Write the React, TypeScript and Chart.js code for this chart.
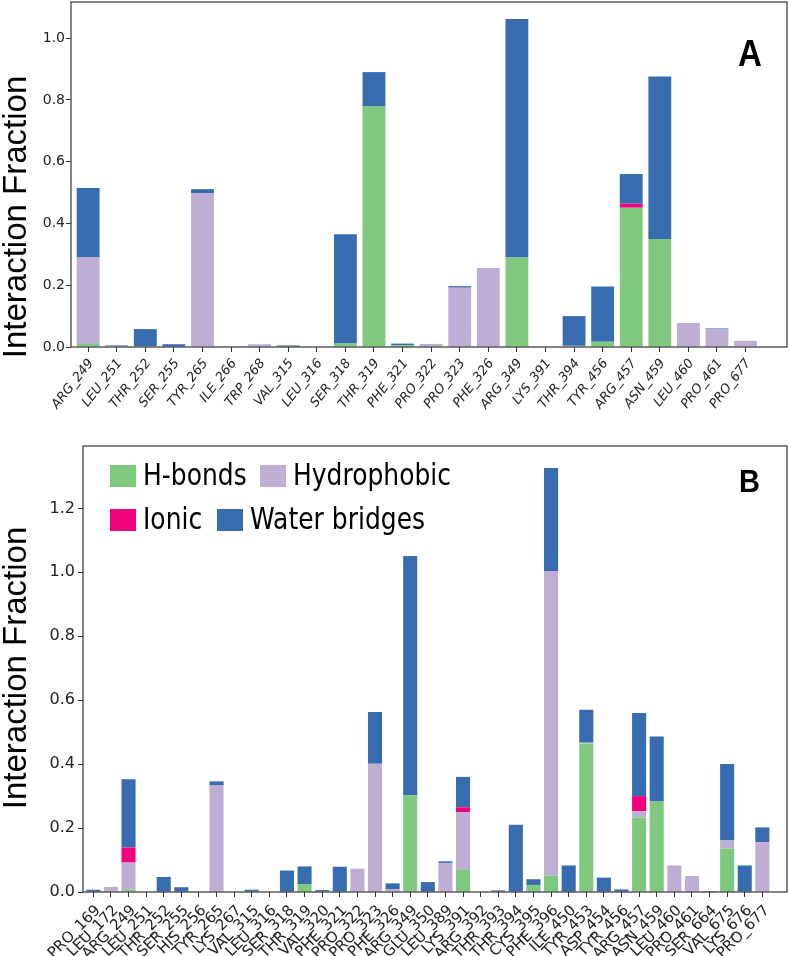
import React, { useEffect, useRef } from 'react';
import { Chart, registerables } from 'chart.js';
Chart.register(...registerables);

// ---------- Panel A data ----------
const residuesA = ['ARG_249','LEU_251','THR_252','SER_255','TYR_265','ILE_266','TRP_268','VAL_315','LEU_316','SER_318','THR_319','PHE_321','PRO_322','PRO_323','PHE_326','ARG_349','LYS_391','THR_394','TYR_456','ARG_457','ASN_459','LEU_460','PRO_461','PRO_677'];
const hbondsA =      [0.01, 0, 0.003, 0, 0, 0, 0, 0, 0, 0.011, 0.78, 0.006, 0, 0, 0, 0.29, 0, 0.004, 0.017, 0.451, 0.35, 0, 0, 0];
const hydrophobicA = [0.28, 0.004, 0, 0, 0.497, 0.002, 0.009, 0, 0, 0, 0, 0, 0.01, 0.192, 0.256, 0, 0, 0, 0, 0, 0, 0.078, 0.057, 0.02];
const ionicA =       [0, 0, 0, 0, 0, 0, 0, 0, 0, 0, 0, 0, 0, 0, 0, 0, 0, 0, 0, 0.013, 0, 0, 0, 0];
const waterA =       [0.225, 0.002, 0.055, 0.009, 0.014, 0, 0, 0.005, 0, 0.354, 0.11, 0.005, 0, 0.005, 0, 0.772, 0, 0.096, 0.179, 0.096, 0.526, 0, 0.003, 0];
const yTicksA = [0, 0.2, 0.4, 0.6, 0.8, 1.0];

// ---------- Panel B data ----------
const residuesB = ['PRO_169','LEU_172','ARG_249','LEU_251','THR_252','SER_255','HIS_256','TYR_265','LYS_267','VAL_315','LEU_316','SER_318','THR_319','VAL_320','PHE_321','PRO_322','PRO_323','PHE_326','ARG_349','GLU_350','LEU_389','LYS_391','ARG_392','THR_393','THR_394','CYS_395','PHE_396','ILE_450','TYR_453','ASP_454','TYR_456','ARG_457','ASN_459','LEU_460','PRO_461','SER_664','VAL_675','LYS_676','PRO_677'];
const hbondsB =      [0, 0, 0.007, 0, 0, 0, 0, 0, 0, 0, 0, 0, 0.025, 0, 0, 0, 0, 0, 0.303, 0, 0, 0.069, 0, 0, 0, 0.022, 0.052, 0, 0.464, 0, 0, 0.233, 0.283, 0, 0, 0, 0.136, 0, 0];
const hydrophobicB = [0, 0.016, 0.085, 0, 0, 0, 0, 0.333, 0, 0, 0, 0, 0, 0, 0, 0.073, 0.401, 0.008, 0, 0, 0.091, 0.18, 0, 0, 0, 0, 0.952, 0, 0.003, 0, 0, 0.02, 0, 0.083, 0.05, 0, 0.025, 0, 0.156];
const ionicB =       [0, 0, 0.047, 0, 0, 0, 0, 0, 0, 0, 0, 0, 0, 0, 0, 0, 0, 0, 0, 0, 0, 0.016, 0, 0, 0, 0, 0, 0, 0, 0, 0, 0.047, 0, 0, 0, 0, 0, 0, 0];
const waterB =       [0.007, 0, 0.214, 0, 0.047, 0.015, 0, 0.013, 0, 0.007, 0, 0.067, 0.055, 0.006, 0.079, 0, 0.162, 0.019, 0.748, 0.031, 0.005, 0.095, 0, 0.005, 0.21, 0.018, 0.322, 0.083, 0.103, 0.045, 0.008, 0.26, 0.203, 0, 0, 0.003, 0.239, 0.083, 0.046];
const yTicksB = [0, 0.2, 0.4, 0.6, 0.8, 1.0, 1.2];

const seriesNames = ['H-bonds', 'Hydrophobic', 'Ionic', 'Water bridges'];
const seriesColors = ['#7fc97f', '#beaed4', '#f0027f', '#386cb0'];

type PanelOpts = {
  cats: string[];
  series: number[][];
  yTicks: number[];
  yMax: number;
  xMin: number;
  xMax: number;
  area: { left: number; top: number; right: number; bottom: number };
  width: number;
  height: number;
  yTickFont: number;
  xTickFont: number;
  xItalic: boolean;
  xRotation: number;
  xLabelOffset: number;
  xTickPad: number;
  yTickPad: number;
  title: { x: number; y: number; size: number };
  letter: { text: string; x: number; y: number; size: number };
  legend?: { label: number; sx: number; tx: number; cy: number }[];
  legendFont?: number;
};

function buildConfig(o: PanelOpts): any {
  const datasets = o.series.map((vals, si) => ({
    label: seriesNames[si],
    data: vals.map((v, i) => ({ x: i, y: v })),
    backgroundColor: seriesColors[si],
    borderWidth: 0,
    barPercentage: 0.8,
    categoryPercentage: 1.0,
  }));

  const decor = {
    id: 'decor',
    afterDraw(chart: any) {
      const { ctx, chartArea: a } = chart;
      ctx.save();
      ctx.strokeStyle = '#333';
      ctx.lineWidth = 1.2;
      ctx.strokeRect(a.left, a.top, a.right - a.left, a.bottom - a.top);
      ctx.restore();

      // y title
      ctx.save();
      ctx.translate(o.title.x, o.title.y);
      ctx.rotate(-Math.PI / 2);
      ctx.font = `${o.title.size}px "Liberation Sans"`;
      ctx.fillStyle = '#000';
      ctx.textAlign = 'center';
      ctx.textBaseline = 'alphabetic';
      ctx.fillText('Interaction Fraction', 0, 0);
      ctx.restore();

      // panel letter
      ctx.save();
      ctx.translate(o.letter.x, o.letter.y);
      ctx.scale(1, 1.1);
      ctx.font = `bold ${o.letter.size}px "Liberation Sans"`;
      ctx.fillStyle = '#000';
      ctx.textAlign = 'left';
      ctx.textBaseline = 'alphabetic';
      ctx.fillText(o.letter.text, 0, 0);
      ctx.restore();

      // legend
      if (o.legend) {
        for (const it of o.legend) {
          ctx.save();
          ctx.fillStyle = seriesColors[it.label];
          ctx.fillRect(it.sx, it.cy - 11, 26, 22);
          ctx.translate(it.tx, it.cy);
          ctx.scale(1, 1.2);
          ctx.font = `${o.legendFont}px "DejaVu Sans"`;
          ctx.fillStyle = '#000';
          ctx.textAlign = 'left';
          ctx.textBaseline = 'middle';
          ctx.fillText(seriesNames[it.label], 0, 1);
          ctx.restore();
        }
      }
    },
  };

  return {
    type: 'bar',
    data: { datasets },
    plugins: [decor],
    options: {
      animation: false,
      responsive: false,
      devicePixelRatio: 1,
      layout: { padding: { left: 0, top: o.area.top, right: o.width - o.area.right, bottom: 0 } },
      plugins: { legend: { display: false }, tooltip: { enabled: false } },
      scales: {
        x: {
          type: 'linear',
          stacked: true,
          offset: false,
          min: o.xMin,
          max: o.xMax,
          grid: { display: true, offset: false, drawOnChartArea: false, drawTicks: true, tickLength: 5, color: '#333' },
          border: { display: false },
          afterBuildTicks: (scale: any) => {
            scale.ticks = o.cats.map((_, i) => ({ value: i }));
          },
          afterFit: (scale: any) => {
            scale.height = o.height - o.area.bottom;
            scale.paddingLeft = 0;
            scale.paddingRight = 0;
          },
          ticks: {
            autoSkip: false,
            minRotation: o.xRotation,
            maxRotation: o.xRotation,
            padding: o.xTickPad,
            labelOffset: o.xLabelOffset,
            color: '#222',
            font: { family: '"DejaVu Sans"', size: o.xTickFont, style: o.xItalic ? 'italic' : 'normal' },
            callback: (v: any) => o.cats[Math.round(v)] ?? '',
          },
        },
        y: {
          type: 'linear',
          stacked: true,
          min: 0,
          max: o.yMax,
          grid: { display: true, drawOnChartArea: false, drawTicks: true, tickLength: 5, color: '#333' },
          border: { display: false },
          afterBuildTicks: (scale: any) => {
            scale.ticks = o.yTicks.map((v) => ({ value: v }));
          },
          afterFit: (scale: any) => {
            scale.width = o.area.left;
            scale.paddingTop = 0;
            scale.paddingBottom = 0;
          },
          ticks: {
            padding: o.yTickPad,
            color: '#222',
            font: { family: '"DejaVu Sans"', size: o.yTickFont },
            callback: (v: any) => Number(v).toFixed(1),
          },
        },
      },
    },
  };
}

const panelA: PanelOpts = {
  cats: residuesA,
  series: [hbondsA, hydrophobicA, ionicA, waterA],
  yTicks: yTicksA,
  yMax: 1.117,
  xMin: -0.6,
  xMax: 24.45,
  area: { left: 71, top: 2, right: 787, bottom: 347 },
  width: 789,
  height: 440,
  yTickFont: 14,
  xTickFont: 13,
  xItalic: true,
  xRotation: 52,
  xLabelOffset: 3,
  xTickPad: 4,
  yTickPad: 1,
  title: { x: 26, y: 217, size: 33 },
  letter: { text: 'A', x: 738, y: 66, size: 33 },
};

const panelB: PanelOpts = {
  cats: residuesB,
  series: [hbondsB, hydrophobicB, ionicB, waterB],
  yTicks: yTicksB,
  yMax: 1.395,
  xMin: -0.585,
  xMax: 39.4,
  area: { left: 83, top: 6, right: 787, bottom: 452 },
  width: 789,
  height: 516,
  yTickFont: 16,
  xTickFont: 15,
  xItalic: false,
  xRotation: 45,
  xLabelOffset: 5,
  xTickPad: 5,
  yTickPad: 3,
  title: { x: 26, y: 228, size: 33 },
  letter: { text: 'B', x: 739, y: 52, size: 29 },
  legend: [
    { label: 0, sx: 110, tx: 143, cy: 36 },
    { label: 1, sx: 260, tx: 293, cy: 36 },
    { label: 2, sx: 110, tx: 143, cy: 80 },
    { label: 3, sx: 217, tx: 250, cy: 80 },
  ],
  legendFont: 25,
};

function Panel({ opts, top }: { opts: PanelOpts; top: number }) {
  const ref = useRef<HTMLCanvasElement | null>(null);
  useEffect(() => {
    if (!ref.current) return;
    const chart = new Chart(ref.current, buildConfig(opts));
    return () => chart.destroy();
  }, [opts]);
  return (
    <canvas
      ref={ref}
      width={opts.width}
      height={opts.height}
      style={{ position: 'absolute', left: 0, top, width: opts.width, height: opts.height }}
    />
  );
}

export default function App() {
  return (
    <div style={{ position: 'absolute', left: 0, top: 0, width: 789, height: 956, background: '#fff' }}>
      <Panel opts={panelA} top={0} />
      <Panel opts={panelB} top={440} />
    </div>
  );
}
